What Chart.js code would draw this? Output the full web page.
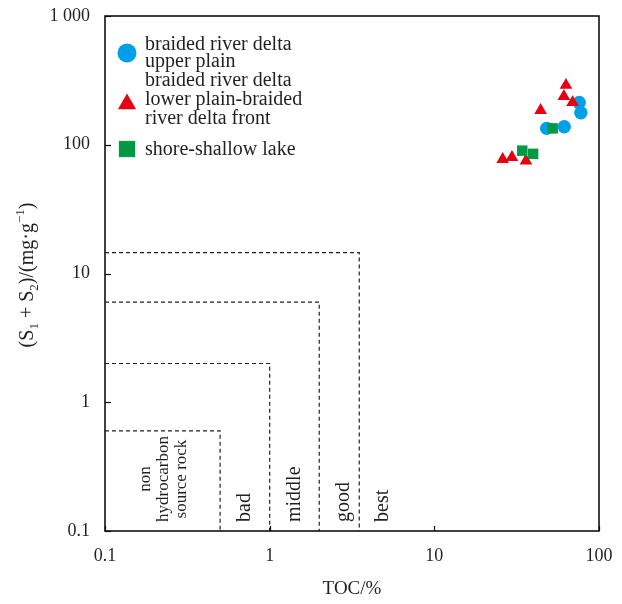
<!DOCTYPE html>
<html>
<head>
<meta charset="utf-8">
<script src="https://cdn.jsdelivr.net/npm/chart.js@4.4.1/dist/chart.umd.min.js"></script>
<style>
  html, body { margin: 0; padding: 0; background: #ffffff; }
  #wrap { width: 622px; height: 604px; }
</style>
</head>
<body>
<div id="wrap"><canvas id="c" width="622" height="604"></canvas></div>
<script>
// TOC (%) and S1+S2 (mg/g) for each sedimentary facies
const tocUpperPlain = [75.8, 77.6, 48.1, 61.5];
const s12UpperPlain = [213, 177, 134, 138];

const tocLowerPlain = [63.0, 61.2, 69.1, 44.2, 26.0, 29.6, 36.0];
const s12LowerPlain = [290, 238, 213, 185, 77, 80, 75];

const tocShoreLake = [52.3, 34.2, 39.8];
const s12ShoreLake = [134, 90, 85];

// Source-rock grade limits: TOC bound and S1+S2 bound of each zone
const gradeTOC = [0.5, 1, 2, 3.5];
const gradeS12 = [0.6, 2, 6, 14.5];
const gradeNames = [["non", "hydrocarbon", "source rock"], ["bad"], ["middle"], ["good"], ["best"]];
const gradeLabelTOC = [0.228, 0.71, 1.43, 2.82, 4.85];

// Axis ticks
const xTickValues = [0.1, 1, 10, 100];
const xTickLabels = ["0.1", "1", "10", "100"];
const yTickValues = [0.1, 1, 10, 100, 1000];
const yTickLabels = ["0.1", "1", "10", "100", "1 000"];

const legendNames = [
  ["braided river delta", "upper plain"],
  ["braided river delta", "lower plain-braided", "river delta front"],
  ["shore-shallow lake"]
];

const SERIF = '"Liberation Serif", "Times New Roman", serif';
const INK = '#231f20';
const BLUE = '#00a0e9';
const RED = '#e60012';
const GREEN = '#009944';

function pairs(xs, ys) { return xs.map((x, i) => ({ x: x, y: ys[i] })); }

// Dashed zone boundaries: horizontal limit from the y axis, then down to the x axis
const gradeDatasets = gradeTOC.map((t, i) => ({
  type: 'line',
  data: [{ x: 0.1, y: gradeS12[i] }, { x: t, y: gradeS12[i] }, { x: t, y: 0.1 }],
  borderColor: '#222222',
  borderWidth: 1.2,
  borderDash: [4, 3],
  pointRadius: 0,
  fill: false,
  tension: 0,
  order: 10
}));

function shapePath(ctx, style, r, x, y) {
  ctx.beginPath();
  if (style === 'circle') {
    ctx.arc(x, y, r, 0, Math.PI * 2);
  } else if (style === 'triangle') {
    ctx.moveTo(x, y - r);
    ctx.lineTo(x + r * Math.sin(2 * Math.PI / 3), y - r * Math.cos(2 * Math.PI / 3));
    ctx.lineTo(x + r * Math.sin(4 * Math.PI / 3), y - r * Math.cos(4 * Math.PI / 3));
    ctx.closePath();
  } else {
    const s = Math.SQRT1_2 * r;
    ctx.rect(x - s, y - s, 2 * s, 2 * s);
  }
}

const decorPlugin = {
  id: 'decor',
  afterDraw(chart) {
    const ctx = chart.ctx;
    const a = chart.chartArea;
    const xs = chart.scales.x, ys = chart.scales.y;
    ctx.save();

    // inward tick marks
    ctx.strokeStyle = '#000';
    ctx.lineWidth = 1.2;
    yTickValues.forEach(v => {
      const py = Math.round(ys.getPixelForValue(v)) + 0.5;
      ctx.beginPath(); ctx.moveTo(a.left, py); ctx.lineTo(a.left + 6, py); ctx.stroke();
    });
    xTickValues.forEach(v => {
      const px = Math.round(xs.getPixelForValue(v)) + 0.5;
      ctx.beginPath(); ctx.moveTo(px, a.bottom); ctx.lineTo(px, a.bottom - 5); ctx.stroke();
    });

    // plot frame
    ctx.lineWidth = 1.6;
    ctx.strokeStyle = '#111';
    ctx.strokeRect(a.left, a.top, a.right - a.left, a.bottom - a.top);

    // grade names, written upward from the bottom of each zone
    ctx.fillStyle = INK;
    ctx.textBaseline = 'middle';
    ctx.textAlign = 'center';
    gradeNames.forEach((lines, i) => {
      ctx.font = (lines.length > 1 ? 17 : 20) + 'px ' + SERIF;
      const cx = xs.getPixelForValue(gradeLabelTOC[i]);
      const maxw = Math.max.apply(null, lines.map(l => ctx.measureText(l).width));
      const baseY = a.bottom - 9;
      ctx.save();
      ctx.translate(cx, baseY);
      ctx.rotate(-Math.PI / 2);
      lines.forEach((l, k) => {
        const off = (k - (lines.length - 1) / 2) * 18;
        ctx.fillText(l, maxw / 2, off);
      });
      ctx.restore();
    });

    // y axis title with sub/superscripts
    const segs = [
      { t: '(S', f: 20, dy: 0 },
      { t: '1', f: 13, dy: 5 },
      { t: ' + S', f: 20, dy: 0 },
      { t: '2', f: 13, dy: 5 },
      { t: ')/(mg·g', f: 20, dy: 0 },
      { t: '−1', f: 13, dy: -9 },
      { t: ')', f: 20, dy: 0 }
    ];
    let total = 0;
    segs.forEach(s => { ctx.font = s.f + 'px ' + SERIF; s.w = ctx.measureText(s.t).width; total += s.w; });
    ctx.save();
    ctx.translate(27, 275);
    ctx.rotate(-Math.PI / 2);
    ctx.textAlign = 'left';
    ctx.textBaseline = 'alphabetic';
    let px = -total / 2;
    segs.forEach(s => {
      ctx.font = s.f + 'px ' + SERIF;
      ctx.fillText(s.t, px, 6 + s.dy);
      px += s.w;
    });
    ctx.restore();

    // x axis title
    ctx.font = '19px ' + SERIF;
    ctx.textAlign = 'center';
    ctx.textBaseline = 'middle';
    ctx.fillText('TOC/%', (a.left + a.right) / 2, 589);

    // legend
    const items = [
      { style: 'circle', color: BLUE, r: 9.5, my: 37, base: [34, 51] },
      { style: 'triangle', color: RED, r: 10.5, my: 88, base: [70, 89, 108] },
      { style: 'rect', color: GREEN, r: 11.5, my: 133, base: [139] }
    ];
    ctx.font = '20px ' + SERIF;
    ctx.textAlign = 'left';
    ctx.textBaseline = 'alphabetic';
    items.forEach((it, i) => {
      ctx.fillStyle = it.color;
      shapePath(ctx, it.style, it.r, a.left + 22, a.top + it.my);
      ctx.fill();
      ctx.fillStyle = INK;
      legendNames[i].forEach((l, k) => ctx.fillText(l, a.left + 40, a.top + it.base[k]));
    });

    ctx.restore();
  }
};

const tickFont = { family: SERIF, size: 18 };

new Chart(document.getElementById('c'), {
  type: 'scatter',
  data: {
    datasets: gradeDatasets.concat([
      {
        label: 'braided river delta upper plain',
        data: pairs(tocUpperPlain, s12UpperPlain),
        pointStyle: 'circle', pointRadius: 6.7,
        backgroundColor: BLUE, borderWidth: 0, order: 3
      },
      {
        label: 'braided river delta lower plain-braided river delta front',
        data: pairs(tocLowerPlain, s12LowerPlain),
        pointStyle: 'triangle', pointRadius: 7.3,
        backgroundColor: RED, borderWidth: 0, order: 2
      },
      {
        label: 'shore-shallow lake',
        data: pairs(tocShoreLake, s12ShoreLake),
        pointStyle: 'rect', pointRadius: 7.4,
        backgroundColor: GREEN, borderWidth: 0, order: 1
      }
    ])
  },
  options: {
    responsive: false,
    animation: false,
    devicePixelRatio: 1,
    layout: { padding: { top: 16, right: 23, left: 0, bottom: 0 } },
    plugins: { legend: { display: false }, tooltip: { enabled: false } },
    scales: {
      x: {
        type: 'logarithmic', min: 0.1, max: 100,
        afterBuildTicks: s => { s.ticks = xTickValues.map(v => ({ value: v })); },
        afterFit: s => { s.height = 73; s.paddingLeft = 0; s.paddingRight = 0; },
        ticks: {
          autoSkip: false, maxRotation: 0, padding: 6,
          color: INK, font: tickFont,
          callback: v => { const i = xTickValues.indexOf(v); return i >= 0 ? xTickLabels[i] : ''; }
        },
        grid: { display: false },
        border: { display: false }
      },
      y: {
        type: 'logarithmic', min: 0.1, max: 1000,
        afterBuildTicks: s => { s.ticks = yTickValues.map(v => ({ value: v })); },
        afterFit: s => { s.width = 105; s.paddingTop = 0; s.paddingBottom = 0; },
        ticks: {
          autoSkip: false, padding: 7,
          color: INK, font: tickFont,
          callback: v => { const i = yTickValues.indexOf(v); return i >= 0 ? yTickLabels[i] : ''; }
        },
        grid: { display: false },
        border: { display: false }
      }
    }
  },
  plugins: [decorPlugin]
});
</script>
</body>
</html>
